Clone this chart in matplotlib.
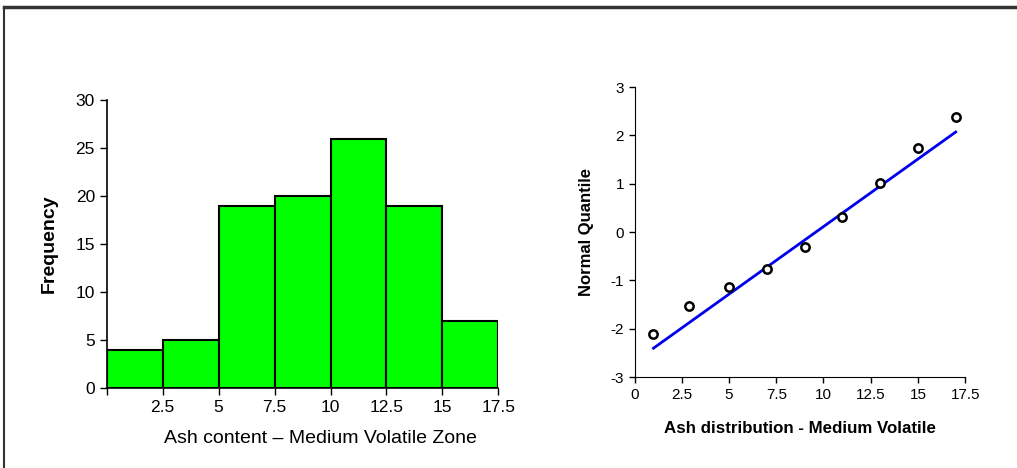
import numpy as np
import matplotlib.pyplot as plt
from matplotlib.lines import Line2D

plt.rcParams['font.family'] = ['Liberation Sans', 'DejaVu Sans']
plt.rcParams['axes.unicode_minus'] = False

# histogram data
bin_edges = [0, 2.5, 5, 7.5, 10, 12.5, 15, 17.5]
freq = [4, 5, 19, 20, 26, 19, 7]

# normal quantile plot data
ash = [1, 2.9, 5, 7, 9, 11, 13, 15, 17]
quantile = [-2.1, -1.53, -1.13, -0.77, -0.3, 0.32, 1.01, 1.74, 2.38]
fit_x = [1, 17]
fit_y = [-2.4, 2.07]

fig = plt.figure(figsize=(10.17, 4.68), dpi=100)

# frame line on top and left
fig.add_artist(Line2D([0.004, 1.0], [0.985, 0.985], color='#333333', lw=2.5))
fig.add_artist(Line2D([0.004, 0.004], [0.0, 0.985], color='#333333', lw=1.5))

# left: histogram
ax1 = fig.add_axes([0.105, 0.171, 0.385, 0.615])
ax1.bar(bin_edges[:-1], freq, width=np.diff(bin_edges), align='edge',
        color='#00ff00', edgecolor='black', linewidth=1.5)
ax1.set_xlim(0, 17.5)
ax1.set_ylim(0, 30)
ax1.set_xticks(bin_edges)
ax1.set_xticklabels([''] + ['2.5', '5', '7.5', '10', '12.5', '15', '17.5'])
ax1.set_yticks(range(0, 31, 5))
ax1.tick_params(labelsize=12.5, length=5, width=1)
ax1.spines['top'].set_visible(False)
ax1.spines['right'].set_visible(False)
ax1.spines['left'].set_linewidth(1.2)
ax1.spines['bottom'].set_linewidth(1.2)
ax1.set_ylabel('Frequency', fontsize=14, fontweight='bold', labelpad=13)
ax1.set_xlabel('Ash content \u2013 Medium Volatile Zone', fontsize=14, labelpad=11)
ax1.xaxis.label.set_x(0.545)

# right: normal quantile plot
ax2 = fig.add_axes([0.624, 0.194, 0.325, 0.620])
ax2.plot(fit_x, fit_y, color='#0000ee', lw=2)
ax2.plot(ash, quantile, 'o', mfc='white', mec='black', mew=1.8, ms=6)
ax2.set_xlim(0, 17.5)
ax2.set_ylim(-3, 3)
ax2.set_xticks(np.arange(0, 17.6, 2.5))
ax2.set_xticklabels(['0', '2.5', '5', '7.5', '10', '12.5', '15', '17.5'])
ax2.set_yticks(range(-3, 4))
ax2.tick_params(labelsize=11, length=4, width=1)
ax2.spines['top'].set_visible(False)
ax2.spines['right'].set_visible(False)
ax2.set_ylabel('Normal Quantile', fontsize=12, fontweight='bold', labelpad=12)
ax2.set_xlabel('Ash distribution - Medium Volatile', fontsize=12.2, fontweight='bold', labelpad=14)

fig.savefig('out.png', dpi=100)
